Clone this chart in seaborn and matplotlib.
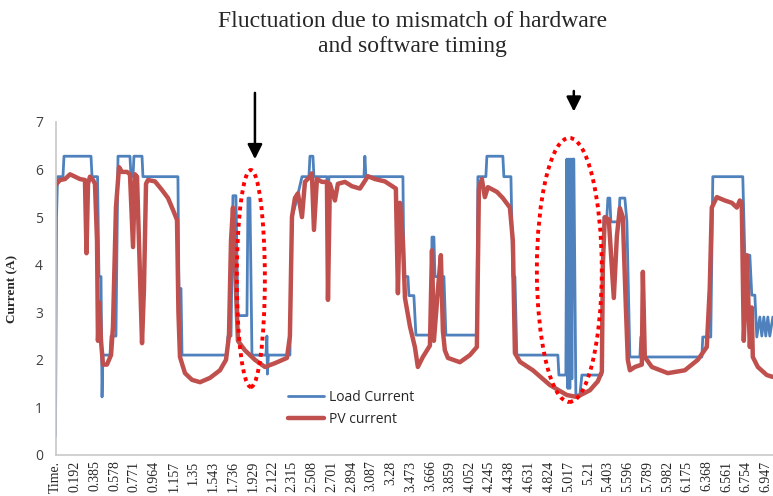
import numpy as np
import pandas as pd
import seaborn as sns
import matplotlib.pyplot as plt
from matplotlib.patches import Ellipse

# Load current (A), time in seconds
load_time = [0.000, 0.010, 0.020, 0.073, 0.083, 0.347, 0.357, 0.411, 0.425, 0.445,
             0.455, 0.464, 0.533, 0.543, 0.591, 0.611, 0.728, 0.738, 0.758, 0.767,
             0.846, 0.855, 1.197, 1.207, 1.227, 1.237, 1.676, 1.686, 1.716, 1.735,
             1.764, 1.784, 1.872, 1.882, 1.901, 1.921, 2.058, 2.067, 2.072, 2.082,
             2.292, 2.312, 2.351, 2.410, 2.478, 2.488, 2.517, 2.527, 2.654, 2.664,
             2.673, 3.016, 3.025, 3.035, 3.397, 3.407, 3.446, 3.456, 3.504, 3.524,
             3.671, 3.681, 3.700, 3.710, 3.798, 3.817, 4.120, 4.130, 4.208, 4.218,
             4.374, 4.384, 4.453, 4.472, 4.492, 4.511, 4.912, 4.922, 4.990, 5.000,
             5.010, 5.020, 5.029, 5.039, 5.049, 5.058, 5.068, 5.088, 5.127, 5.147,
             5.342, 5.362, 5.391, 5.401, 5.420, 5.430, 5.508, 5.518, 5.567, 5.587,
             5.616, 5.714, 5.723, 5.743, 5.753, 6.320, 6.329, 6.407, 6.427, 6.720,
             6.740, 6.789, 6.808, 6.838, 6.857, 6.887, 6.906, 6.926, 6.945, 6.965,
             6.984, 7.014]
load_current = [0.40, 5.00, 5.85, 5.85, 6.28, 6.28, 5.85, 5.85, 3.75, 3.75,
                1.22, 2.10, 2.10, 2.50, 2.50, 6.28, 6.28, 5.85, 5.85, 6.28,
                6.28, 5.85, 5.85, 3.50, 3.50, 2.10, 2.10, 2.50, 2.50, 5.45,
                5.45, 2.93, 2.93, 5.40, 5.40, 2.10, 2.10, 2.50, 1.70, 2.10,
                2.10, 5.00, 5.30, 5.85, 5.85, 6.28, 6.28, 5.85, 5.85, 3.30,
                5.85, 5.85, 6.28, 5.85, 5.85, 3.75, 3.75, 3.35, 3.35, 2.52,
                2.52, 4.58, 4.58, 3.75, 3.75, 2.52, 2.52, 5.85, 5.85, 6.28,
                6.28, 5.85, 5.85, 3.75, 3.75, 2.10, 2.10, 1.68, 1.68, 6.22,
                1.40, 6.22, 1.40, 6.22, 1.60, 6.22, 6.22, 1.26, 1.26, 1.68,
                1.68, 5.00, 5.00, 5.40, 5.40, 4.90, 4.90, 5.40, 5.40, 4.90,
                2.06, 2.06, 2.48, 2.48, 2.06, 2.06, 2.48, 2.48, 5.85, 5.85,
                4.20, 4.20, 3.36, 3.36, 2.48, 2.90, 2.50, 2.90, 2.50, 2.90,
                2.50, 2.90]

# PV current (A)
pv_time = [0.000, 0.044, 0.093, 0.142, 0.191, 0.239, 0.288, 0.303, 0.318, 0.337,
           0.367, 0.386, 0.406, 0.415, 0.430, 0.445, 0.464, 0.503, 0.543, 0.562,
           0.591, 0.621, 0.650, 0.699, 0.728, 0.758, 0.777, 0.797, 0.816, 0.846,
           0.865, 0.885, 0.904, 0.973, 1.041, 1.100, 1.149, 1.188, 1.202, 1.217,
           1.266, 1.334, 1.413, 1.510, 1.608, 1.667, 1.696, 1.716, 1.735, 1.755,
           1.784, 1.852, 1.950, 2.048, 2.146, 2.263, 2.292, 2.312, 2.341, 2.370,
           2.410, 2.439, 2.488, 2.507, 2.527, 2.556, 2.605, 2.654, 2.664, 2.683,
           2.732, 2.761, 2.830, 2.898, 2.977, 3.055, 3.123, 3.221, 3.328, 3.348,
           3.368, 3.397, 3.417, 3.466, 3.514, 3.543, 3.592, 3.632, 3.661, 3.681,
           3.700, 3.739, 3.768, 3.788, 3.807, 3.837, 3.954, 4.052, 4.120, 4.140,
           4.169, 4.198, 4.228, 4.316, 4.374, 4.443, 4.472, 4.492, 4.541, 4.668,
           4.834, 5.000, 5.098, 5.225, 5.303, 5.342, 5.352, 5.371, 5.410, 5.459,
           5.489, 5.518, 5.547, 5.577, 5.596, 5.616, 5.665, 5.733, 5.743, 5.762,
           5.831, 5.987, 6.153, 6.280, 6.368, 6.397, 6.417, 6.466, 6.544, 6.613,
           6.662, 6.691, 6.710, 6.730, 6.760, 6.789, 6.808, 6.818, 6.867, 6.955,
           7.014]
pv_current = [5.67, 5.78, 5.80, 5.90, 5.85, 5.80, 5.78, 4.24, 5.70, 5.85,
              5.78, 5.70, 4.50, 2.40, 3.20, 2.40, 1.90, 1.90, 2.10, 2.70,
              5.20, 6.05, 5.95, 5.95, 5.90, 4.37, 5.90, 5.85, 4.50, 2.35,
              3.50, 5.70, 5.78, 5.75, 5.57, 5.40, 5.15, 4.94, 3.00, 2.06,
              1.72, 1.58, 1.53, 1.62, 1.78, 2.00, 2.50, 4.50, 5.20, 4.00,
              2.40, 2.20, 2.00, 1.85, 1.93, 2.04, 2.50, 5.00, 5.40, 5.50,
              5.00, 5.74, 5.85, 5.92, 4.73, 5.80, 5.74, 5.74, 3.26, 5.70,
              5.35, 5.70, 5.74, 5.65, 5.60, 5.86, 5.80, 5.75, 5.60, 3.40,
              5.30, 4.50, 3.30, 2.70, 2.27, 1.85, 2.06, 2.20, 2.30, 4.30,
              2.40, 3.47, 4.20, 2.60, 2.20, 2.04, 1.95, 2.10, 2.27, 5.60,
              5.80, 5.42, 5.63, 5.53, 5.40, 5.20, 4.50, 2.14, 1.96, 1.78,
              1.47, 1.26, 1.22, 1.36, 1.55, 1.75, 4.00, 5.00, 4.95, 3.30,
              4.60, 5.19, 5.00, 3.10, 2.00, 1.78, 1.85, 1.90, 3.85, 2.06,
              1.85, 1.72, 1.78, 2.00, 2.27, 3.50, 5.20, 5.42, 5.35, 5.30,
              5.20, 5.35, 5.30, 2.40, 4.20, 2.27, 3.10, 2.06, 1.85, 1.68,
              1.64]

tick_times = [0.000, 0.192, 0.385, 0.578, 0.771, 0.964, 1.157, 1.35, 1.543, 1.736,
              1.929, 2.122, 2.315, 2.508, 2.701, 2.894, 3.087, 3.28, 3.473, 3.666,
              3.859, 4.052, 4.245, 4.438, 4.631, 4.824, 5.017, 5.21, 5.403, 5.596,
              5.789, 5.982, 6.175, 6.368, 6.561, 6.754, 6.947]
tick_labels = ["Time."] + [str(t) for t in tick_times[1:]]

load_df = pd.DataFrame({"time": load_time, "current": load_current})
pv_df = pd.DataFrame({"time": pv_time, "current": pv_current})

sns.set_style("white")
plt.rcParams['font.family'] = ['Liberation Serif', 'DejaVu Serif']

fig = plt.figure(figsize=(7.73, 4.96), dpi=100)
ax = fig.add_axes([0.0718, 0.0827, 0.928, 0.6714])

sns.lineplot(x="time", y="current", data=load_df, estimator=None, sort=False,
             color="#4F81BD", linewidth=2.0, label="Load Current", ax=ax)
sns.lineplot(x="time", y="current", data=pv_df, estimator=None, sort=False,
             color="#C0504D", linewidth=3.2, label="PV current", ax=ax)

ax.set_xlim(0, 7.014)
ax.set_ylim(0, 7)
ax.set_yticks(range(8))
ax.set_yticklabels([str(i) for i in range(8)], family="Open Sans", fontsize=10,
                   color="#404040")
ax.set_xticks(tick_times)
ax.set_xticklabels(tick_labels, rotation=90, fontsize=10)
ax.tick_params(axis="y", length=0, pad=9)
ax.tick_params(axis="x", length=0, pad=4)
ax.set_xlabel("")
ax.set_ylabel("Current (A)", fontsize=9.5, fontweight="bold", labelpad=12)
for side in ["top", "right"]:
    ax.spines[side].set_visible(False)
for side in ["left", "bottom"]:
    ax.spines[side].set_color("#c8c8c8")
    ax.spines[side].set_linewidth(1.2)

# highlighted regions
for (cx, cy, w, h) in [(1.91, 3.71, 0.274, 4.56), (5.024, 3.89, 0.635, 5.55)]:
    ax.add_patch(Ellipse((cx, cy), w, h, fill=False, edgecolor="#ff0000",
                         linewidth=2.8, linestyle=(0, (1, 1.1)), clip_on=False,
                         zorder=5))

ax.annotate("", xy=(1.95, 6.16), xytext=(1.95, 7.67), annotation_clip=False,
            arrowprops=dict(arrowstyle="-|>", mutation_scale=22, color="black", lw=1.8))
ax.annotate("", xy=(5.068, 7.16), xytext=(5.068, 7.71), annotation_clip=False,
            arrowprops=dict(arrowstyle="-|>", mutation_scale=22, color="black", lw=1.8))

fig.text(0.534, 0.932, "Fluctuation due to mismatch of hardware\nand software timing",
         ha="center", va="center", fontsize=17, linespacing=1.25)

ax.legend(loc="upper left", bbox_to_anchor=(0.373, 0.214), bbox_transform=fig.transFigure,
          frameon=False, prop={"family": "Open Sans", "size": 10}, handlelength=2.6,
          handletextpad=0.3, labelspacing=0.5, borderaxespad=0, borderpad=0)

plt.savefig("out.png", dpi=100)
